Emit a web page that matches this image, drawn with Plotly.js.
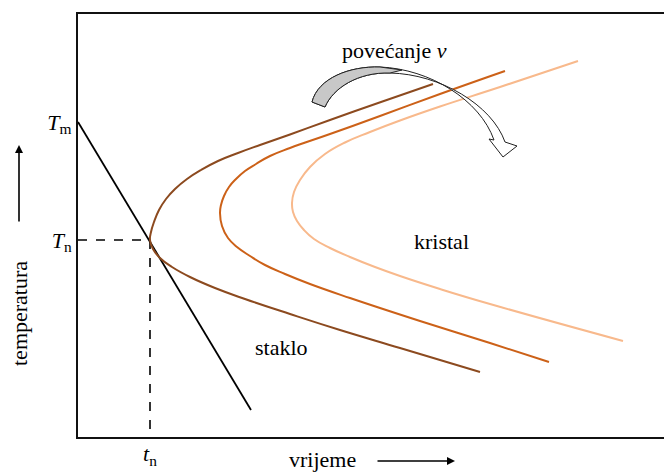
<!DOCTYPE html>
<html>
<head>
<meta charset="utf-8">
<script src="https://cdn.plot.ly/plotly-3.0.1.min.js"></script>
<style>html,body{margin:0;padding:0;background:#fff;}#chart{width:664px;height:473px;}</style>
</head>
<body>
<div id="chart"></div>
<script>
// Characteristic values (arbitrary units)
const Tm = 315;   // melting temperature
const Tn = 197;   // nose temperature
const tn = 72;    // nose time

// Cooling line from Tm
const coolX = [0, 173];
const coolY = [315, 27];

// TTT curves (increasing crystallisation rate v -> shifted right)
const c1X = [355, 303, 252, 212, 182, 160, 140, 123, 109, 97, 88, 81, 76, 73, 72, 75, 82, 94, 112, 137, 167, 212, 262, 322, 402];
const c1Y = [353, 335, 317, 302.5, 292, 284, 276, 267, 258, 248, 238, 227, 215, 205, 197, 188, 179, 170, 160, 149, 138, 123, 107, 89, 65];
const c2X = [427, 362, 302, 252, 212, 192, 178, 167, 158, 151, 146, 143, 142, 144, 150, 159, 172, 187, 207, 232, 272, 342, 412, 471];
const c2Y = [366, 343, 321, 303, 289, 281, 273, 266, 258, 250, 241, 232, 224, 211, 199, 190, 181, 172, 163, 153, 139, 116, 94, 75];
const c3X = [500, 422, 362, 322, 292, 267, 247, 232, 222, 216, 214, 215, 219, 226, 236, 252, 272, 297, 322, 362, 412, 545];
const c3Y = [376, 350, 330.5, 316.5, 305, 294.5, 283, 270, 257, 245, 234, 225, 216, 207, 198, 189, 180, 170, 161, 148, 133, 96];

const yTickVals = [Tn, Tm];
const yTickText = ['<i>T</i><sub>n</sub>', '<i>T</i><sub>m</sub>'];
const xTickText = '<i>t</i><sub>n</sub>';

const colors = ['#8c4a1f', '#cc6118', '#f8b98c'];

function F(size) { return {family: 'Liberation Serif', size: size, color: '#000'}; }

const traces = [
  {x: coolX, y: coolY, mode: 'lines', line: {color: '#000', width: 1.8}},
  {x: [0, tn], y: [Tn, Tn], mode: 'lines', line: {color: '#000', width: 1.6, dash: 'dash'}},
  {x: [tn, tn], y: [Tn, 0], mode: 'lines', line: {color: '#000', width: 1.6, dash: 'dash'}},
  {x: c3X, y: c3Y, mode: 'lines', line: {color: colors[2], width: 2, shape: 'spline', smoothing: 1.3}},
  {x: c2X, y: c2Y, mode: 'lines', line: {color: colors[1], width: 2, shape: 'spline', smoothing: 1.3}},
  {x: c1X, y: c1Y, mode: 'lines', line: {color: colors[0], width: 2, shape: 'spline', smoothing: 1.3}}
];

// helper: decoration path given in picture pixels -> data coordinates
function P(s) {
  return s.replace(/(-?[\d.]+),(-?[\d.]+)/g, (m, a, b) => (parseFloat(a) - 78) + ',' + (437 - parseFloat(b)));
}
const ribbon = P('M 312,102 C 318,78 350,66 380,67 C 430,69 480,100 494,140 L 489,139 L 503,157 L 517,146 L 505,142 C 492,105 440,74 390,73 C 358,72 333,88 325,107 Z');
const grayPart = P('M 312,102 C 318,78 350,66 380,67 L 402,70 L 390,73 C 358,72 333,88 325,107 Z');

const W = 586, H = 423;
function px(x) { return (x - 78) / W; }
function py(y) { return (437 - y) / H; }

const layout = {
  width: 664, height: 473, autosize: false,
  margin: {l: 78, r: 0, t: 14, b: 36, pad: 0},
  paper_bgcolor: '#fff', plot_bgcolor: '#fff',
  showlegend: false,
  font: F(22),
  xaxis: {range: [0, W], showgrid: false, zeroline: false, showline: true, linewidth: 2, linecolor: '#111', mirror: true,
          showticklabels: false, ticks: '', fixedrange: true},
  yaxis: {range: [0, H], showgrid: false, zeroline: false, showline: true, linewidth: 2, linecolor: '#111',
          tickvals: yTickVals, ticktext: yTickText, ticks: '', tickfont: F(22), fixedrange: true},
  shapes: [
    {type: 'path', xref: 'x', yref: 'y', path: ribbon, fillcolor: '#fff', line: {color: '#222', width: 1}},
    {type: 'path', xref: 'x', yref: 'y', path: grayPart, fillcolor: '#c8c8c8', line: {color: '#222', width: 1}}
  ],
  annotations: [
    {xref: 'x', yref: 'paper', x: tn, y: py(455), xanchor: 'center', yanchor: 'middle', text: xTickText, showarrow: false, font: F(22)},
    {xref: 'paper', yref: 'paper', x: px(394), y: py(50), xanchor: 'center', yanchor: 'middle', text: 'povećanje <i>v</i>', showarrow: false, font: F(22)},
    {xref: 'paper', yref: 'paper', x: px(441), y: py(241), xanchor: 'center', yanchor: 'middle', text: 'kristal', showarrow: false, font: F(22)},
    {xref: 'paper', yref: 'paper', x: px(281), y: py(347), xanchor: 'center', yanchor: 'middle', text: 'staklo', showarrow: false, font: F(22)},
    {xref: 'paper', yref: 'paper', x: px(19), y: py(314), xanchor: 'center', yanchor: 'middle', text: 'temperatura', textangle: -90, showarrow: false, font: F(22)},
    {xref: 'paper', yref: 'paper', x: px(322), y: py(459), xanchor: 'center', yanchor: 'middle', text: 'vrijeme', showarrow: false, font: F(22)},
    {xref: 'paper', yref: 'paper', x: px(19), y: py(145), ax: 0, ay: 78, axref: 'pixel', ayref: 'pixel', text: '', showarrow: true, arrowhead: 2, arrowsize: 1, arrowwidth: 1.6, arrowcolor: '#000'},
    {xref: 'paper', yref: 'paper', x: px(455), y: py(461), ax: -79, ay: 0, axref: 'pixel', ayref: 'pixel', text: '', showarrow: true, arrowhead: 2, arrowsize: 1, arrowwidth: 1.6, arrowcolor: '#000'}
  ]
};

Plotly.newPlot('chart', traces, layout, {displayModeBar: false, staticPlot: true});
</script>
</body>
</html>
